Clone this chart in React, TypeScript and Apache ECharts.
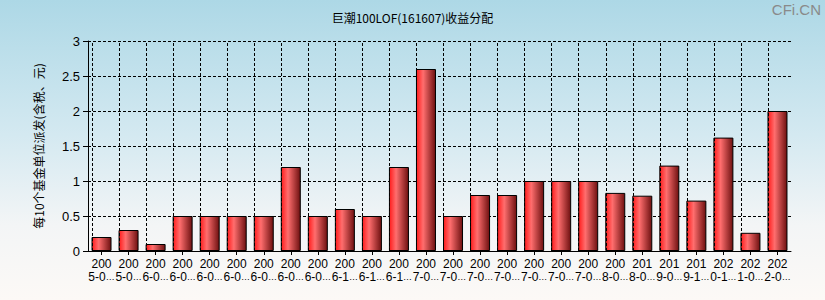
import React, { useEffect, useRef } from "react";
import * as echarts from "echarts";

const titleText = "巨潮100LOF(161607)收益分配";
const yAxisName = "每10个基金单位派发(含税、元)";
const categories = [
  "2005-0…", "2005-0…",
  "2006-0…", "2006-0…", "2006-0…", "2006-0…", "2006-0…", "2006-0…", "2006-0…",
  "2006-1…", "2006-1…", "2006-1…",
  "2007-0…", "2007-0…", "2007-0…", "2007-0…", "2007-0…", "2007-0…", "2007-0…",
  "2008-0…", "2018-0…", "2019-0…", "2019-1…", "2020-1…", "2021-0…", "2022-0…",
];
const values = [
  0.2, 0.3, 0.1, 0.5, 0.5, 0.5, 0.5, 1.2, 0.5, 0.6, 0.5, 1.2, 2.6,
  0.5, 0.8, 0.8, 1.0, 1.0, 1.0, 0.83, 0.79, 1.22, 0.72, 1.62, 0.26, 2.0,
];
const yTicks = [0, 0.5, 1, 1.5, 2, 2.5, 3];

export default function App() {
  const ref = useRef<HTMLDivElement>(null);
  useEffect(() => {
    if (!ref.current) return;
    const chart = echarts.init(ref.current, undefined, { renderer: "svg" });
    const font = "Liberation Sans, Arial, sans-serif";
    chart.setOption({
      animation: false,
      backgroundColor: "transparent",
      title: {
        text: titleText,
        left: "center",
        top: 6,
        textStyle: { fontSize: 12, fontWeight: "normal", color: "#000", fontFamily: "Noto Sans CJK SC" },
      },
      graphic: [
        {
          type: "text",
          right: 4,
          top: 2,
          style: { text: "CFi.CN", fill: "#8a8a8a", fontSize: 15, fontFamily: font },
        },
      ],
      grid: { left: 88, right: 34, top: 41, bottom: 49 },
      xAxis: {
        type: "category",
        data: categories,
        axisLine: { lineStyle: { color: "#000", width: 1 } },
        axisTick: { show: true, alignWithLabel: true, length: 4, lineStyle: { color: "#000" } },
        axisLabel: {
          interval: 0,
          color: "#000",
          fontSize: 12,
          fontFamily: font,
          lineHeight: 13,
          margin: 6,
          formatter: (v: string) => v.slice(0, 3) + "\n" + v.slice(3, 6) + "{e|" + v.slice(6) + "}",
          rich: {
            e: { fontSize: 9, fontFamily: font, color: "#000", lineHeight: 13 },
          },
        },
        splitLine: { show: false },
      },
      yAxis: {
        type: "value",
        min: yTicks[0],
        max: yTicks[yTicks.length - 1],
        interval: 0.5,
        name: yAxisName,
        nameLocation: "middle",
        nameRotate: 90,
        nameGap: 44,
        nameTextStyle: { fontSize: 12, color: "#000", fontFamily: "Noto Sans CJK SC" },
        axisLine: { show: true, lineStyle: { color: "#000", width: 1 } },
        axisTick: { show: true, length: 5, lineStyle: { color: "#000" } },
        axisLabel: { color: "#000", fontSize: 13, fontFamily: font, margin: 8 },
        splitLine: { show: true, lineStyle: { color: "#000", type: [3, 2], width: 1 } },
      },
      series: [
        {
          type: "bar",
          data: categories.map(() => null),
          z: 1,
          silent: true,
          markLine: {
            symbol: "none",
            silent: true,
            label: { show: false },
            lineStyle: { color: "#000", type: [3, 2], width: 1 },
            data: categories.map((_, i) => ({ xAxis: i })),
          },
        },
        {
          type: "bar",
          data: values,
          barWidth: 20,
          barGap: "-100%",
          z: 3,
          itemStyle: {
            borderColor: "#000",
            borderWidth: 1,
            color: new echarts.graphic.LinearGradient(0, 0, 1, 0, [
              { offset: 0, color: "#ff1c1c" },
              { offset: 0.35, color: "#ff6e6e" },
              { offset: 1, color: "#6e1010" },
            ]),
          },
        },
      ],
    });
    return () => chart.dispose();
  }, []);
  return (
    <div
      ref={ref}
      style={{
        position: "fixed",
        left: 0,
        top: 0,
        width: 825,
        height: 300,
        background: "linear-gradient(to bottom, #add8e6 0%, #d4e9f1 45%, #f3f5f6 75%, #fcf9f6 100%)",
      }}
    />
  );
}
